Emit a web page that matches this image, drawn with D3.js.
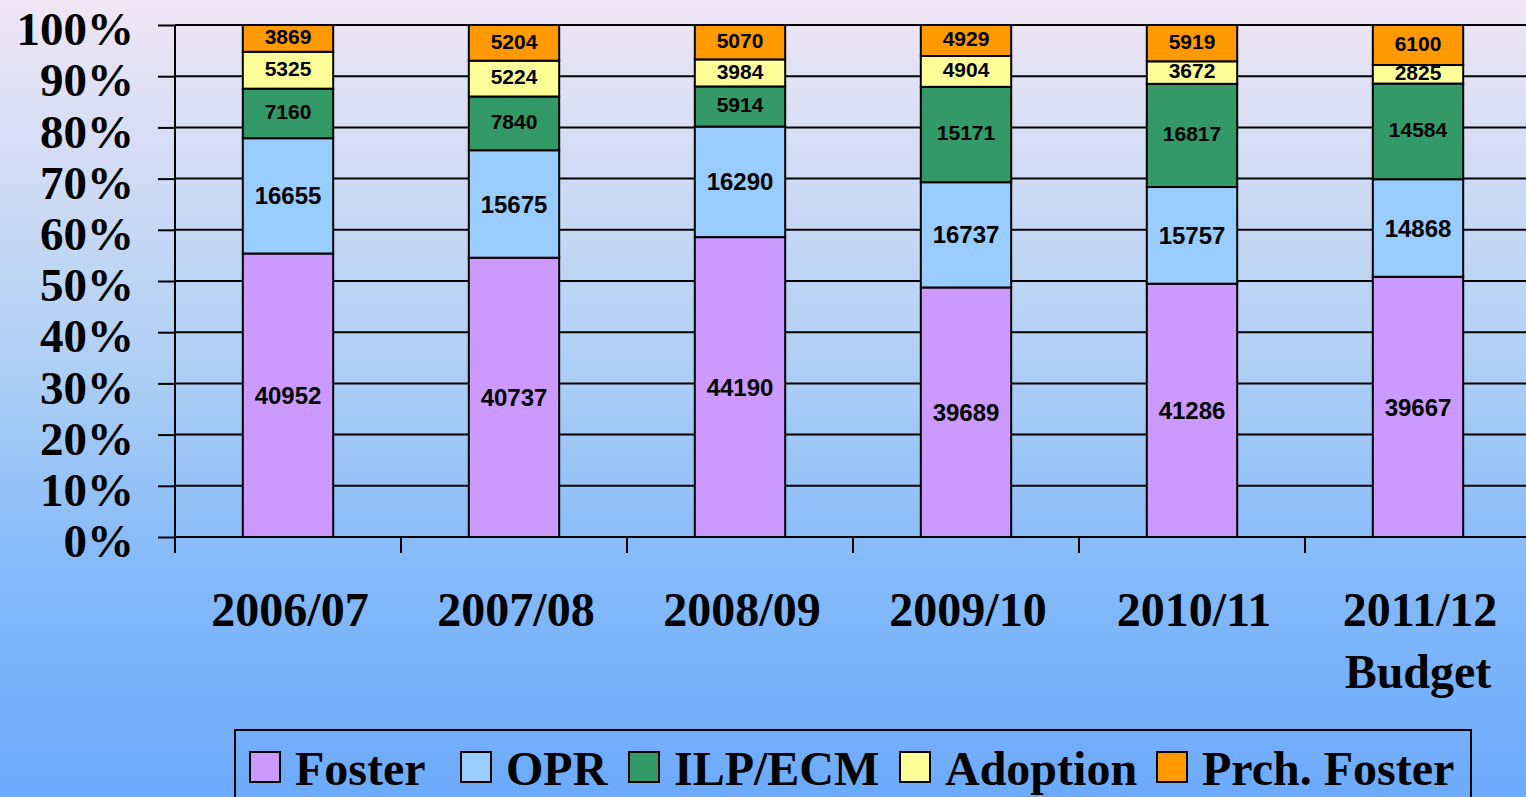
<!DOCTYPE html>
<html>
<head>
<meta charset="utf-8">
<script src="https://cdn.jsdelivr.net/npm/d3@7"></script>
<style>
  html, body { margin: 0; padding: 0; overflow: hidden; }
  svg { display: block; }
</style>
</head>
<body>
<div id="chart"></div>
<script>
// data
var years = ["2006/07", "2007/08", "2008/09", "2009/10", "2010/11", "2011/12"];
var yearSub = ["", "", "", "", "", "Budget"];
var seriesNames = ["Foster", "OPR", "ILP/ECM", "Adoption", "Prch. Foster"];
var foster   = [40952, 40737, 44190, 39689, 41286, 39667];
var opr      = [16655, 15675, 16290, 16737, 15757, 14868];
var ilpEcm   = [7160, 7840, 5914, 15171, 16817, 14584];
var adoption = [5325, 5224, 3984, 4904, 3672, 2825];
var prchFoster = [3869, 5204, 5070, 4929, 5919, 6100];
var yTicks = [0, 0.1, 0.2, 0.3, 0.4, 0.5, 0.6, 0.7, 0.8, 0.9, 1];

var colors = ["#cc99ff", "#99ccff", "#339966", "#ffff99", "#ff9900"];
var labelSizes = [24, 24, 21, 21, 21];
var legendX = [250, 461, 629, 900, 1157];

var W = 1526, H = 797;
var margin = {top: 25, left: 175};
var plotBottom = 537;
var serif = "'Liberation Serif', 'Times New Roman', serif";

var svg = d3.select("#chart")
  .append("svg")
    .attr("width", W)
    .attr("height", H);

// background gradient
var grad = svg.append("defs").append("linearGradient")
  .attr("id", "bg")
  .attr("x1", 0).attr("y1", 0).attr("x2", 0).attr("y2", 1);
grad.append("stop").attr("offset", "0%").attr("stop-color", "#efe6f5");
grad.append("stop").attr("offset", "45%").attr("stop-color", "#b0d0f4");
grad.append("stop").attr("offset", "70%").attr("stop-color", "#86bbf9");
grad.append("stop").attr("offset", "100%").attr("stop-color", "#6caafb");
svg.append("rect")
  .attr("width", W).attr("height", H)
  .attr("fill", "url(#bg)");

// build rows for the stack
var allSeries = [foster, opr, ilpEcm, adoption, prchFoster];
var rows = years.map(function(y, i) {
  var r = {year: y};
  seriesNames.forEach(function(s, j) { r[s] = allSeries[j][i]; });
  return r;
});

var stack = d3.stack()
  .keys(seriesNames)
  .offset(d3.stackOffsetExpand);
var stacked = stack(rows);

var xScale = d3.scaleBand()
  .domain(years)
  .range([margin.left, margin.left + 6 * 226])
  .paddingInner(0.6)
  .paddingOuter(0.3);

var yScale = d3.scaleLinear()
  .domain([0, 1])
  .range([plotBottom, margin.top]);

// gridlines
svg.append("g")
  .selectAll("line")
  .data(yTicks)
  .enter()
  .append("line")
    .attr("x1", margin.left)
    .attr("x2", margin.left + 6 * 226)
    .attr("y1", function(d) { return yScale(d); })
    .attr("y2", function(d) { return yScale(d); })
    .attr("stroke", "#000")
    .attr("stroke-width", 2);

// y axis
var yAxis = svg.append("g")
  .attr("transform", "translate(" + margin.left + ",0)")
  .call(d3.axisLeft(yScale)
    .tickValues(yTicks)
    .tickFormat(d3.format(".0%"))
    .tickSize(17)
    .tickPadding(24));
yAxis.select(".domain")
  .attr("d", "M0," + (margin.top) + "V" + (plotBottom + 16))
  .attr("stroke-width", 2);
yAxis.selectAll(".tick line").attr("stroke-width", 2);
yAxis.selectAll("text")
  .attr("dy", "0.42em")
  .style("font-family", serif)
  .style("font-weight", "bold")
  .style("font-size", "47px")
  .attr("fill", "#000");

// x ticks at band boundaries
var gap = xScale.step() - xScale.bandwidth();
svg.append("g")
  .selectAll("line")
  .data(years)
  .enter()
  .append("line")
    .attr("x1", function(d) { return xScale(d) - gap / 2; })
    .attr("x2", function(d) { return xScale(d) - gap / 2; })
    .attr("y1", plotBottom)
    .attr("y2", plotBottom + 16)
    .attr("stroke", "#000")
    .attr("stroke-width", 2);

// bars
var layers = svg.append("g")
  .selectAll("g")
  .data(stacked)
  .enter()
  .append("g")
    .attr("fill", function(d, i) { return colors[i]; });

layers.selectAll("rect")
  .data(function(d) { return d; })
  .enter()
  .append("rect")
    .attr("x", function(d) { return xScale(d.data.year); })
    .attr("y", function(d) { return yScale(d[1]); })
    .attr("width", xScale.bandwidth())
    .attr("height", function(d) { return yScale(d[0]) - yScale(d[1]); })
    .attr("stroke", "#000")
    .attr("stroke-width", 2);

// value labels
stacked.forEach(function(layer, j) {
  svg.append("g")
    .selectAll("text")
    .data(layer)
    .enter()
    .append("text")
      .attr("x", function(d) { return xScale(d.data.year) + xScale.bandwidth() / 2; })
      .attr("y", function(d) { return (yScale(d[0]) + yScale(d[1])) / 2; })
      .attr("dy", j < 2 ? "0.36em" : "0.28em")
      .attr("text-anchor", "middle")
      .style("font-family", "'Liberation Sans', Arial, sans-serif")
      .style("font-weight", "bold")
      .style("font-size", labelSizes[j] + "px")
      .text(function(d) { return d.data[layer.key]; });
});

// x labels
svg.append("g")
  .selectAll("text")
  .data(years)
  .enter()
  .append("text")
    .attr("x", function(d) { return xScale(d) + xScale.bandwidth() / 2 + 2; })
    .attr("y", 626)
    .attr("text-anchor", "middle")
    .style("font-family", serif)
    .style("font-weight", "bold")
    .style("font-size", "48px")
    .text(function(d) { return d; });

svg.append("g")
  .selectAll("text")
  .data(years.filter(function(d, i) { return yearSub[i]; }))
  .enter()
  .append("text")
    .attr("x", function(d) { return xScale(d) + xScale.bandwidth() / 2; })
    .attr("y", 688)
    .attr("text-anchor", "middle")
    .style("font-family", serif)
    .style("font-weight", "bold")
    .style("font-size", "48px")
    .text(function(d) { return yearSub[years.indexOf(d)]; });

// legend
svg.append("rect")
  .attr("x", 235)
  .attr("y", 730)
  .attr("width", 1236)
  .attr("height", 100)
  .attr("fill", "none")
  .attr("stroke", "#000")
  .attr("stroke-width", 2);

seriesNames.forEach(function(name, i) {
  svg.append("rect")
    .attr("x", legendX[i])
    .attr("y", 752)
    .attr("width", 30)
    .attr("height", 30)
    .attr("fill", colors[i])
    .attr("stroke", "#000")
    .attr("stroke-width", 2);
  svg.append("text")
    .attr("x", legendX[i] + 45)
    .attr("y", 785)
    .style("font-family", serif)
    .style("font-weight", "bold")
    .style("font-size", "48px")
    .text(name);
});
</script>
</body>
</html>
